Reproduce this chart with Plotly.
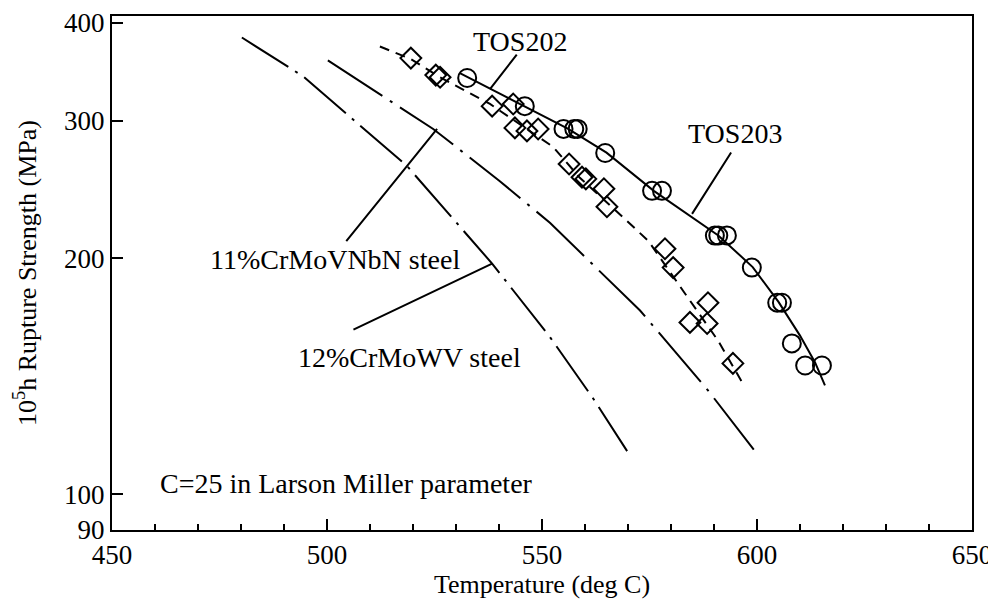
import numpy as np
import plotly.graph_objects as go

# ---- data ----
tos203_x = [532.6, 546.0, 555.0, 557.5, 558.3, 564.7, 575.6, 577.9, 590.2, 591.0, 593.0,
            598.8, 604.7, 605.8, 608.1, 611.2, 615.1]
tos203_y = [340, 313, 292.7, 292.7, 292.7, 272.7, 244, 244, 213.9, 213.9, 214,
            194.7, 175.6, 175.6, 155.8, 146, 146]

tos202_x = [519.5, 525.3, 526.3, 538.4, 543.3, 543.7, 546.5, 549.1, 556.3, 559.3, 560.2,
            564.4, 565.1, 578.6, 580.5, 588.6, 584.4, 588.4, 594.4]
tos202_y = [360.5, 342.9, 340.7, 313, 315, 293.6, 291, 292.7, 264, 254, 252.7,
            245.5, 232.8, 205.8, 194.7, 175.6, 165.7, 165.2, 146.9]

fit203_x = [530.9, 546.0, 556.0, 565.0, 576.0, 591.0, 599.0, 605.0, 610.0, 613.5, 615.8]
fit203_y = [344.9, 313, 293, 273, 244, 214, 195, 176, 159.4, 147.3, 137.7]

fit202_x = [512.3, 519.5, 526.3, 537.9, 552.6, 558.8, 566.5, 574.7, 582.8, 590.9, 596.7]
fit202_y = [373, 359.4, 340.7, 315, 277.6, 253.5, 232, 210.7, 181.9, 157.2, 138.5]

steel11_x = [500.2, 524.7, 540.2, 551.9, 572.8, 588.6, 599.5]
steel11_y = [358, 292.7, 251, 222, 171.6, 135.7, 113.5]

steel12_x = [480.2, 494.4, 518.6, 538.4, 551.9, 561.9, 569.8]
steel12_y = [383, 341.8, 262.5, 197, 158.6, 132.5, 113.5]

y_ticks = [90, 100, 200, 300, 400]
x_ticks = [450, 500, 550, 600, 650]

FONT = "Liberation Serif, Times New Roman, serif"
BLACK = "black"

fig = go.Figure()

fig.add_trace(go.Scatter(x=steel12_x, y=steel12_y, mode="lines",
                         line=dict(color=BLACK, width=2, dash="55px,8px,3px,8px"),
                         showlegend=False))
fig.add_trace(go.Scatter(x=steel11_x, y=steel11_y, mode="lines",
                         line=dict(color=BLACK, width=2, dash="65px,9px,3px,9px"),
                         showlegend=False))
fig.add_trace(go.Scatter(x=fit202_x, y=fit202_y, mode="lines",
                         line=dict(color=BLACK, width=2, dash="10px,7px"),
                         showlegend=False))
fig.add_trace(go.Scatter(x=fit203_x, y=fit203_y, mode="lines",
                         line=dict(color=BLACK, width=2),
                         showlegend=False))
fig.add_trace(go.Scatter(x=tos202_x, y=tos202_y, mode="markers",
                         marker=dict(symbol="diamond-open", size=16, color=BLACK,
                                     line=dict(width=2, color=BLACK)),
                         showlegend=False))
fig.add_trace(go.Scatter(x=tos203_x, y=tos203_y, mode="markers",
                         marker=dict(symbol="circle-open", size=18, color=BLACK,
                                     line=dict(width=2, color=BLACK)),
                         showlegend=False))

L = np.log10

def label(text, x, y, xanchor="center"):
    fig.add_annotation(x=x, y=L(y), text=text, showarrow=False, xanchor=xanchor,
                       yanchor="middle", font=dict(family=FONT, size=28, color=BLACK))

def leader(x0, y0, x1, y1):
    fig.add_annotation(x=x1, y=L(y1), ax=x0, ay=L(y0), axref="x", ayref="y",
                       xref="x", yref="y", text="", showarrow=True, arrowhead=0,
                       arrowwidth=2, arrowcolor=BLACK)

label("TOS202", 544.9, 378.9)
leader(544.4, 365.8, 537.9, 329)
label("TOS203", 594.9, 288.4)
leader(594.2, 274.3, 584.9, 228)
label("11%CrMoVNbN steel", 501.9, 199.3)
leader(504.2, 209.5, 525.6, 292.7)
label("12%CrMoWV steel", 519.3, 149.5)
leader(505.8, 161.9, 538.4, 197)
label("C=25 in Larson Miller parameter", 460.7, 103.3, xanchor="left")

# the page body has an 8px margin, so the figure is offset by 8px and sized to end at the window edge
fig.update_layout(
    width=988, height=599,
    margin=dict(l=104, r=24, t=8, b=77, autoexpand=False),
    paper_bgcolor="white", plot_bgcolor="white",
    font=dict(family=FONT, color=BLACK),
    showlegend=False,
)
fig.update_xaxes(
    range=[450, 650], tickvals=x_ticks, ticktext=[str(v) for v in x_ticks],
    ticks="inside", ticklen=11, tickwidth=2, tickcolor=BLACK,
    minor=dict(dtick=10, ticks="inside", ticklen=6, tickwidth=1.5, tickcolor=BLACK),
    showline=True, linewidth=2, linecolor=BLACK, mirror=True,
    showgrid=False, zeroline=False, automargin=False, ticklabeloverflow="allow",
    tickfont=dict(family=FONT, size=27, color=BLACK),
    title=dict(text="Temperature (deg C)", font=dict(family=FONT, size=26, color=BLACK), standoff=4),
)
fig.update_yaxes(
    type="log", range=[L(90), L(408)], tickvals=y_ticks, ticktext=[str(v) for v in y_ticks],
    ticks="inside", ticklen=11, tickwidth=2, tickcolor=BLACK,
    showline=True, linewidth=2, linecolor=BLACK, mirror=True,
    showgrid=False, zeroline=False, automargin=False,
    tickfont=dict(family=FONT, size=27, color=BLACK),
    title=dict(text="10<sup>5</sup>h Rupture Strength (MPa)",
               font=dict(family=FONT, size=26, color=BLACK), standoff=20),
)

fig.write_html("out.html")
